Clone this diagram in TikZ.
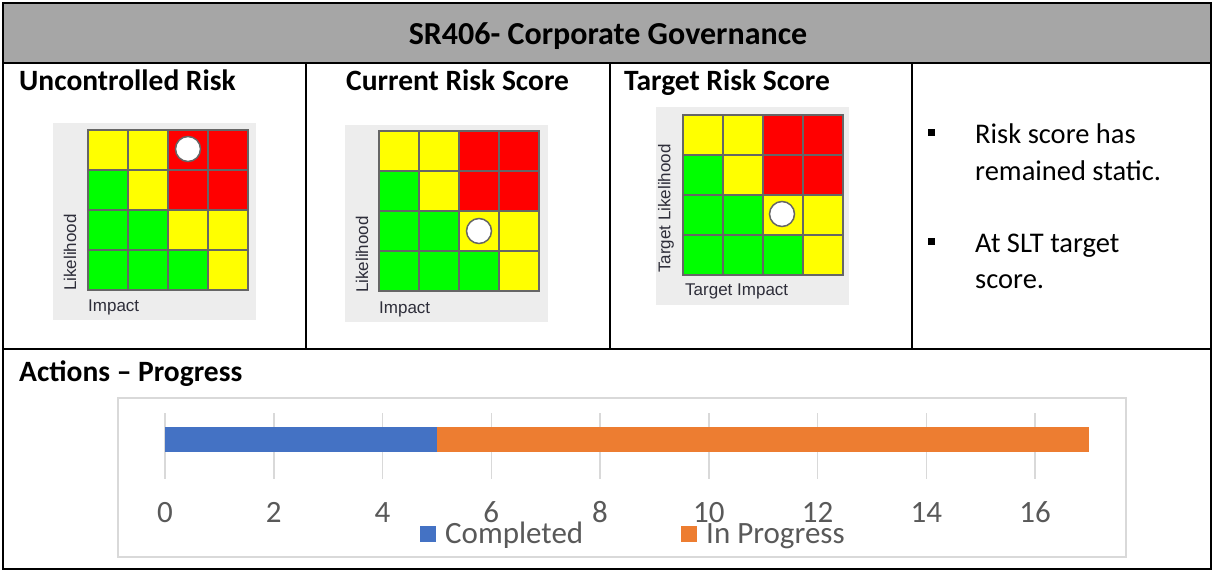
\documentclass[tikz,border=0pt]{standalone}
\usepackage{fontspec}
\usepackage{tikz}
\setmainfont{Carlito}
\newfontfamily\arialfont{Liberation Sans}

\definecolor{headgray}{HTML}{A6A6A6}
\definecolor{mapbg}{HTML}{EDEDED}
\definecolor{gridgray}{HTML}{666666}
\definecolor{riskred}{HTML}{FF0000}
\definecolor{riskyellow}{HTML}{FFFF00}
\definecolor{riskgreen}{HTML}{00FF00}
\definecolor{labelgray}{HTML}{2E2E3A}
\definecolor{framegray}{HTML}{D9D9D9}
\definecolor{tickgray}{HTML}{595959}
\definecolor{barblue}{HTML}{4472C4}
\definecolor{barorange}{HTML}{ED7D31}

\tikzset{
  heading/.style={font=\bfseries\fontsize{29.5}{35}\selectfont, anchor=base west, inner sep=0pt},
  bodytext/.style={font=\fontsize{28.5}{34}\selectfont, anchor=base west, inner sep=0pt},
  axislabel/.style={font=\arialfont\fontsize{17}{20}\selectfont, text=labelgray, inner sep=0pt},
  cell/.style={draw=gridgray, line width=1.5pt},
  marker/.style={circle, draw=gridgray, fill=white, line width=1.5pt, minimum size=25pt, inner sep=0pt},
  ticklabel/.style={font=\fontsize{31}{36}\selectfont, text=tickgray, anchor=base, inner sep=0pt},
  tablerule/.style={line width=2pt}
}

\begin{document}
\begin{tikzpicture}[x=1pt, y=-1pt]
        \useasboundingbox (0,0) rectangle (1214,572);

        % Draw the table
        \fill[headgray] (3,3) rectangle (1211,63);
        \draw[tablerule] (3,3) rectangle (1211,569);
        \draw[tablerule] (3,63) -- (1211,63);
        \draw[tablerule] (3,349) -- (1211,349);
        \foreach \vx in {306,610,912}
            \draw[tablerule] (\vx,63) -- (\vx,349);
        \node[heading, anchor=base, font=\bfseries\fontsize{32}{38}\selectfont] (title) at (608,45) {SR406- Corporate Governance};
        \node[heading] (hdunc) at (19,91) {Uncontrolled Risk};
        \node[heading] (hdcur) at (346,91) {Current Risk Score};
        \node[heading] (hdtgt) at (624,91) {Target Risk Score};
        \node[heading] (hdact) at (19,381) {Actions -- Progress};

        % Draw the three risk matrices
        \fill[mapbg] (53,123) rectangle (256,320);
        \fill[mapbg] (345,125) rectangle (548,322);
        \fill[mapbg] (656,107) rectangle (849,305);
        \foreach \gx/\gy in {88/130, 379/131, 683/115}
            \foreach \cl [count=\k from 0] in {riskyellow,riskyellow,riskred,riskred,
                riskgreen,riskyellow,riskred,riskred,riskgreen,riskgreen,riskyellow,riskyellow,
                riskgreen,riskgreen,riskgreen,riskyellow}{
                \pgfmathtruncatemacro\cx{mod(\k,4)}
                \pgfmathtruncatemacro\cy{\k/4}
                \draw[cell, fill=\cl] (\gx+40*\cx,\gy+40*\cy) rectangle ++(40,40);
            }
        \node[marker] (dotunc) at (188,149) {};
        \node[marker] (dotcur) at (479,231) {};
        \node[marker] (dottgt) at (782,214) {};
        \node[axislabel, anchor=base west] (impunc) at (88,311) {Impact};
        \node[axislabel, anchor=base west] (impcur) at (379,313) {Impact};
        \node[axislabel, anchor=base west] (imptgt) at (685,295) {Target Impact};
        \node[axislabel, rotate=90, anchor=west] (likunc) at (70,291) {Likelihood};
        \node[axislabel, rotate=90, anchor=west] (likcur) at (362,293) {Likelihood};
        \node[axislabel, rotate=90, anchor=west] (liktgt) at (666,273) {Target Likelihood};

        % Comments on the score
        \node[fill=black, minimum size=7pt, inner sep=0pt] (bul1) at (931,133) {};
        \node[fill=black, minimum size=7pt, inner sep=0pt] (bul2) at (931,241) {};
        \node[bodytext] (txt1a) at (975,144) {Risk score has};
        \node[bodytext] (txt1b) at (975,181) {remained static.};
        \node[bodytext] (txt2a) at (975,252) {At SLT target};
        \node[bodytext] (txt2b) at (975,288) {score.};

        % Draw the progress chart
        \draw[framegray, line width=1.5pt] (118,398) rectangle (1126,557);
        \foreach \v in {0,2,...,16}{
            \draw[framegray, line width=1.5pt] (165+54.375*\v,413) -- (165+54.375*\v,479);
            \node[ticklabel] (tick\v) at (165+54.375*\v,522) {\v};
        }
        \fill[barblue] (165,427) rectangle (437,452);
        \fill[barorange] (437,427) rectangle (1089,452);
        \fill[barblue] (420,526) rectangle (436,542);
        \node[ticklabel, anchor=base west] (legdone) at (445,543) {Completed};
        \fill[barorange] (681,526) rectangle (697,542);
        \node[ticklabel, anchor=base west] (legprog) at (706,543) {In Progress};
    \end{tikzpicture}
\end{document}
